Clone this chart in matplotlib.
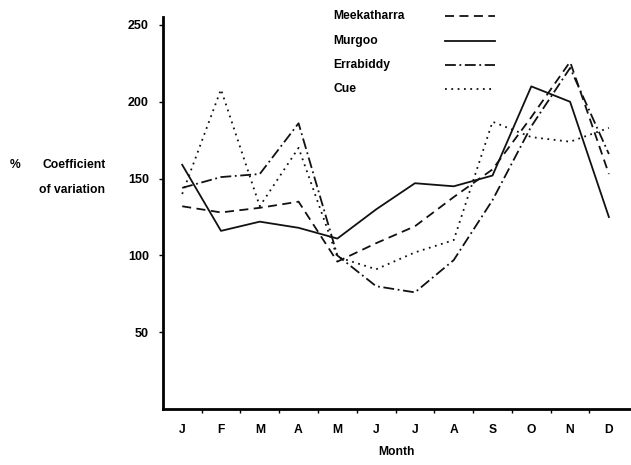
import matplotlib
matplotlib.use("Agg")
import matplotlib.pyplot as plt

plt.rcParams['font.family'] = ['Liberation Sans', 'DejaVu Sans']

months = ["J", "F", "M", "A", "M", "J", "J", "A", "S", "O", "N", "D"]
stations = ["Meekatharra", "Murgoo", "Errabiddy", "Cue"]
meekatharra = [132, 128, 131, 135, 96, 108, 119, 138, 156, 190, 226, 153]
murgoo = [159, 116, 122, 118, 111, 130, 147, 145, 152, 210, 200, 125]
errabiddy = [144, 151, 153, 186, 100, 80, 76, 97, 136, 184, 222, 166]
cue = [140, 208, 132, 170, 99, 91, 102, 110, 187, 177, 174, 183]
yticks = [50, 100, 150, 200, 250]

series = [meekatharra, murgoo, errabiddy, cue]
styles = [(0, (5, 3)), "-", (0, (6, 2, 1, 2)), (0, (1, 2.5))]

fig = plt.figure(figsize=(6.31, 4.65), dpi=100)
ax = fig.add_axes([0.258, 0.12, 0.742, 0.843])

x = list(range(len(months)))
for vals, ls in zip(series, styles):
    ax.plot(x, vals, color="#111111", linestyle=ls, linewidth=1.3)

ax.set_xlim(-0.5, 11.57)
ax.set_ylim(0, 255)

ax.spines['top'].set_visible(False)
ax.spines['right'].set_visible(False)
ax.spines['left'].set_linewidth(2)
ax.spines['bottom'].set_linewidth(2)

ax.set_yticks(yticks)
ax.set_yticklabels([str(v) for v in yticks], fontsize=9, fontweight="bold")
ax.tick_params(axis='y', length=3, width=1, pad=7)

ax.set_xticks(x)
ax.set_xticklabels(months, fontsize=8.7, fontweight="bold")
ax.tick_params(axis='x', length=0, pad=11)
ax.set_xticks([i + 0.5 for i in range(11)], minor=True)
ax.tick_params(axis='x', which='minor', length=3, width=1)

ax.set_xlabel("Month", fontsize=8.7, fontweight="bold", labelpad=7)

fig.text(0.016, 0.645, "%", fontsize=8.7, fontweight="bold", va="center")
fig.text(0.167, 0.645, "Coefficient", fontsize=8.7, fontweight="bold", va="center", ha="right")
fig.text(0.167, 0.592, "of variation", fontsize=8.7, fontweight="bold", va="center", ha="right")

# legend drawn by hand: names on the left, line samples on the right
for k, (name, ls) in enumerate(zip(stations, styles)):
    yf = 1 - (16 + k * 24.5) / 465
    fig.text(333 / 631, yf, name, fontsize=8.7, fontweight="bold", va="center")
    fig.add_artist(plt.Line2D([445 / 631, 495 / 631], [yf, yf], color="#111111",
                              linestyle=ls, linewidth=1.3))

fig.savefig("out.png", dpi=100)
